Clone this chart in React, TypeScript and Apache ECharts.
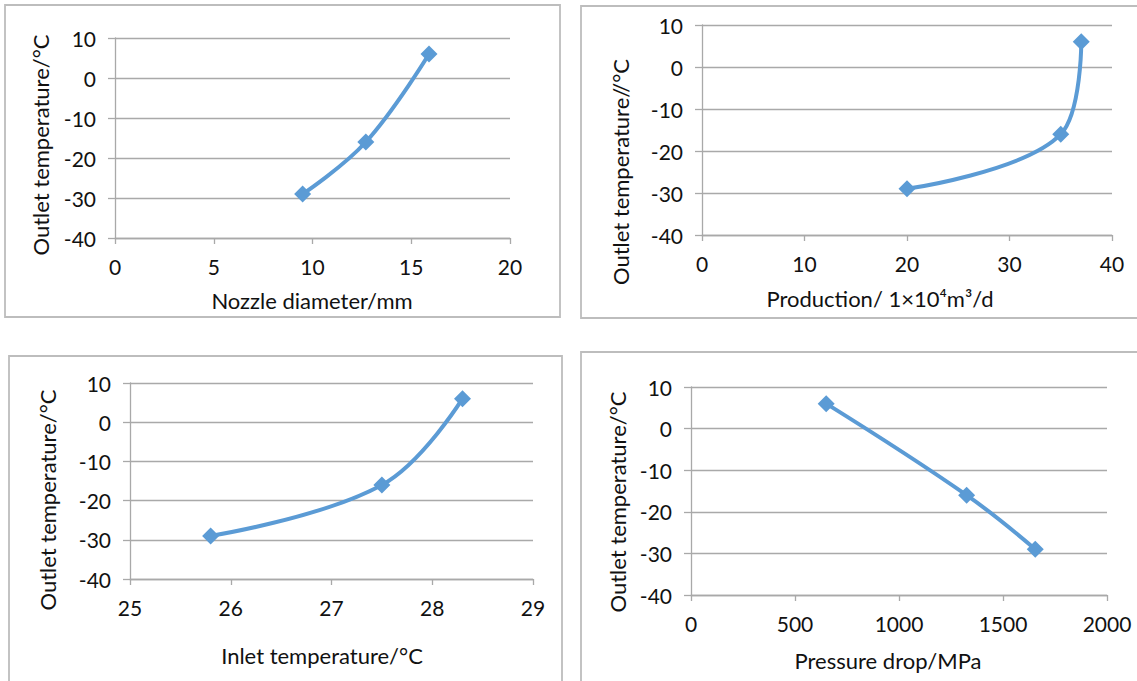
import React, { useEffect, useRef } from "react";
import * as echarts from "echarts";

const yTicks = { min: -40, max: 10, interval: 10 };

const nozzleDiameter = [9.5, 12.7, 15.9];
const nozzleOutletTemp = [-29, -16, 6];

const production = [20, 35, 37];
const productionOutletTemp = [-29, -16, 6];

const inletTemp = [25.8, 27.5, 28.3];
const inletOutletTemp = [-29, -16, 6];

const pressureDrop = [650, 1325, 1655];
const pressureOutletTemp = [6, -16, -29];

const xTitles = [
  "Nozzle diameter/mm",
  "Production/ 1×10⁴m³/d",
  "Inlet temperature/°C",
  "Pressure drop/MPa",
];
const yTitles = [
  "Outlet temperature/°C",
  "Outlet temperature//°C",
  "Outlet temperature/°C",
  "Outlet temperature/°C",
];
const xRanges = [
  { min: 0, max: 20, interval: 5 },
  { min: 0, max: 40, interval: 10 },
  { min: 25, max: 29, interval: 1 },
  { min: 0, max: 2000, interval: 500 },
];

const pairs = (xs: number[], ys: number[]) => xs.map((x, i) => [x, ys[i]]);

const FONT = "Lato";
const GRID_COLOR = "#A9A9A9";
const LINE_COLOR = "#5B9BD5";

export default function App() {
  const ref = useRef<HTMLDivElement>(null);
  useEffect(() => {
    if (!ref.current) return;
    const chart = echarts.init(ref.current, null, { renderer: "svg" });

    const grids = [
      { left: 115, top: 38, width: 395, height: 200 },
      { left: 702, top: 25, width: 410, height: 210 },
      { left: 130, top: 383, width: 403, height: 196 },
      { left: 691, top: 387, width: 416, height: 208 },
    ];
    const xTitlePos = [
      [312, 300],
      [880, 298],
      [322, 655],
      [888, 660],
    ];
    const yTitlePos = [
      [40, 145],
      [620, 172],
      [47, 500],
      [617, 502],
    ];
    const seriesData = [
      pairs(nozzleDiameter, nozzleOutletTemp),
      pairs(production, productionOutletTemp),
      pairs(inletTemp, inletOutletTemp),
      pairs(pressureDrop, pressureOutletTemp),
    ];

    const axisLabelStyle = { color: "#111", fontFamily: FONT, fontSize: 21 };
    const titleStyle = {
      fill: "#111",
      fontFamily: FONT,
      fontSize: 22,
      align: "center",
      verticalAlign: "middle",
    };

    const borders = [
      { type: "rect", shape: { x: 5, y: 5, width: 555, height: 312 } },
      { type: "rect", shape: { x: 581, y: 6, width: 570, height: 312 } },
      { type: "rect", shape: { x: 9, y: 356, width: 553, height: 340 } },
      { type: "rect", shape: { x: 581, y: 352, width: 570, height: 340 } },
    ].map((r) => ({
      ...r,
      z: -1,
      style: { fill: "none", stroke: "#BDBDBD", lineWidth: 1.8 },
    }));

    const xTitleTexts = xTitles.map((t, i) => ({
      type: "text",
      x: xTitlePos[i][0],
      y: xTitlePos[i][1],
      style: { ...titleStyle, text: t },
    }));
    const yTitleTexts = yTitles.map((t, i) => ({
      type: "text",
      x: yTitlePos[i][0],
      y: yTitlePos[i][1],
      rotation: Math.PI / 2,
      style: { ...titleStyle, text: t },
    }));

    chart.setOption({
      animation: false,
      backgroundColor: "#fff",
      grid: grids.map((g) => ({ ...g, containLabel: false })),
      xAxis: grids.map((_, i) => ({
        type: "value",
        gridIndex: i,
        min: xRanges[i].min,
        max: xRanges[i].max,
        interval: xRanges[i].interval,
        axisLine: { show: true, onZero: false, lineStyle: { color: GRID_COLOR, width: 1.3 } },
        axisTick: { show: true, length: 6, lineStyle: { color: GRID_COLOR, width: 1.3 } },
        axisLabel: { ...axisLabelStyle, margin: 18, formatter: (v: number) => String(v) },
        splitLine: { show: false },
      })),
      yAxis: grids.map((_, i) => ({
        type: "value",
        gridIndex: i,
        min: yTicks.min,
        max: yTicks.max,
        interval: yTicks.interval,
        axisLine: { show: true, onZero: false, lineStyle: { color: GRID_COLOR, width: 1.3 } },
        axisTick: { show: true, length: 7, lineStyle: { color: GRID_COLOR, width: 1.3 } },
        axisLabel: { ...axisLabelStyle, margin: 19, formatter: (v: number) => String(v) },
        splitLine: { show: true, lineStyle: { color: GRID_COLOR, width: 1.3 } },
      })),
      series: seriesData.map((d, i) => ({
        type: "line",
        xAxisIndex: i,
        yAxisIndex: i,
        data: d,
        smooth: 0.4,
        symbol: "diamond",
        symbolSize: 17,
        lineStyle: { color: LINE_COLOR, width: 4 },
        itemStyle: { color: LINE_COLOR },
      })),
      graphic: [...borders, ...xTitleTexts, ...yTitleTexts],
    });
    return () => chart.dispose();
  }, []);
  return (
    <div
      ref={ref}
      style={{ position: "fixed", left: 0, top: 0, width: 1137, height: 681 }}
    />
  );
}
